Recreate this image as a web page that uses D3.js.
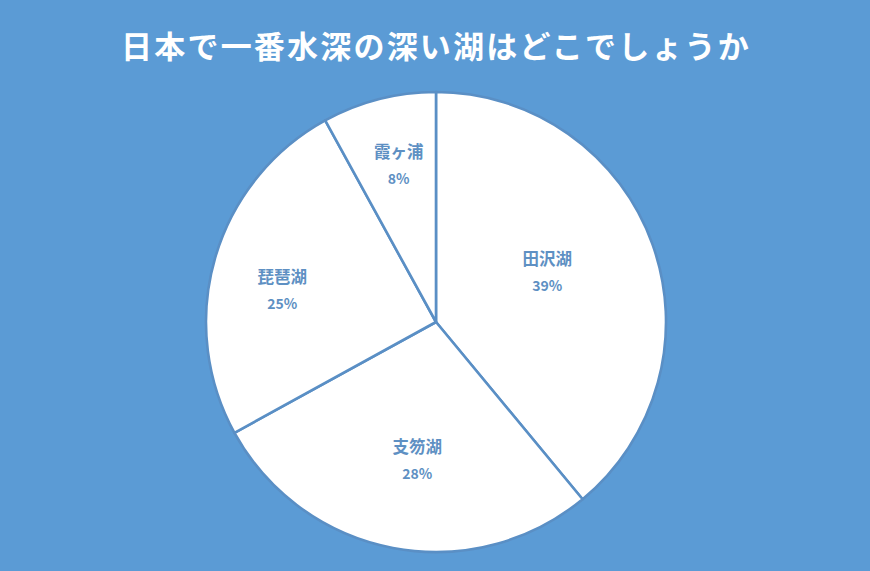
<!DOCTYPE html>
<html>
<head>
<meta charset="utf-8">
<script src="https://cdn.jsdelivr.net/npm/d3@7"></script>
<style>
  html, body { margin: 0; padding: 0; background: #5b9bd5; }
  svg { display: block; }
</style>
</head>
<body>
<svg id="chart" width="870" height="571"></svg>
<script>
const title = '日本で一番水深の深い湖はどこでしょうか';
const lakes = ['田沢湖', '支笏湖', '琵琶湖', '霞ヶ浦'];
const shares = [39, 28, 25, 8];

// label placement, tuned per slice (radius from centre, angle nudge in degrees)
const labelRadius = [122, 139, 157, 161];
const labelNudge = [-4.5, -3, -4.5, 1];

const width = 870;
const height = 571;
const cx = 436;
const cy = 322;
const radius = 230;

const svg = d3.select('#chart');

svg.append('rect')
  .attr('width', width)
  .attr('height', height)
  .attr('fill', '#5b9bd5');

svg.append('text')
  .attr('x', 436)
  .attr('y', 58)
  .attr('text-anchor', 'middle')
  .attr('fill', '#fff')
  .attr('font-family', '"Noto Sans CJK JP", sans-serif')
  .attr('font-weight', 'bold')
  .attr('font-size', 31)
  .attr('letter-spacing', 2.2)
  .text(title);

const data = lakes.map((name, i) => ({ name, value: shares[i], idx: i }));

const pie = d3.pie()
  .sort(null)
  .value(d => d.value);

const arcs = pie(data);

const arc = d3.arc()
  .innerRadius(0)
  .outerRadius(radius);

const g = svg.append('g')
  .attr('transform', `translate(${cx}, ${cy})`);

g.selectAll('path')
  .data(arcs)
  .enter()
  .append('path')
  .attr('d', arc)
  .attr('fill', '#fff')
  .attr('stroke', '#5a8fc5')
  .attr('stroke-width', 2.6)
  .attr('stroke-linejoin', 'round');

const labels = g.selectAll('g.label')
  .data(arcs)
  .enter()
  .append('g')
  .attr('class', 'label')
  .attr('transform', (d) => {
    const a = (d.startAngle + d.endAngle) / 2 + (labelNudge[d.data.idx] * Math.PI) / 180;
    const r = labelRadius[d.data.idx];
    return `translate(${r * Math.sin(a)}, ${-r * Math.cos(a)})`;
  })
  .attr('font-family', '"Noto Sans CJK JP", sans-serif')
  .attr('font-weight', 'bold')
  .attr('text-anchor', 'middle')
  .attr('fill', '#5e90c3');

labels.append('text')
  .attr('y', -7)
  .attr('font-size', 16.5)
  .text(d => d.data.name);

labels.append('text')
  .attr('y', 19)
  .attr('font-size', 14)
  .text(d => `${d.data.value}%`);
</script>
</body>
</html>
